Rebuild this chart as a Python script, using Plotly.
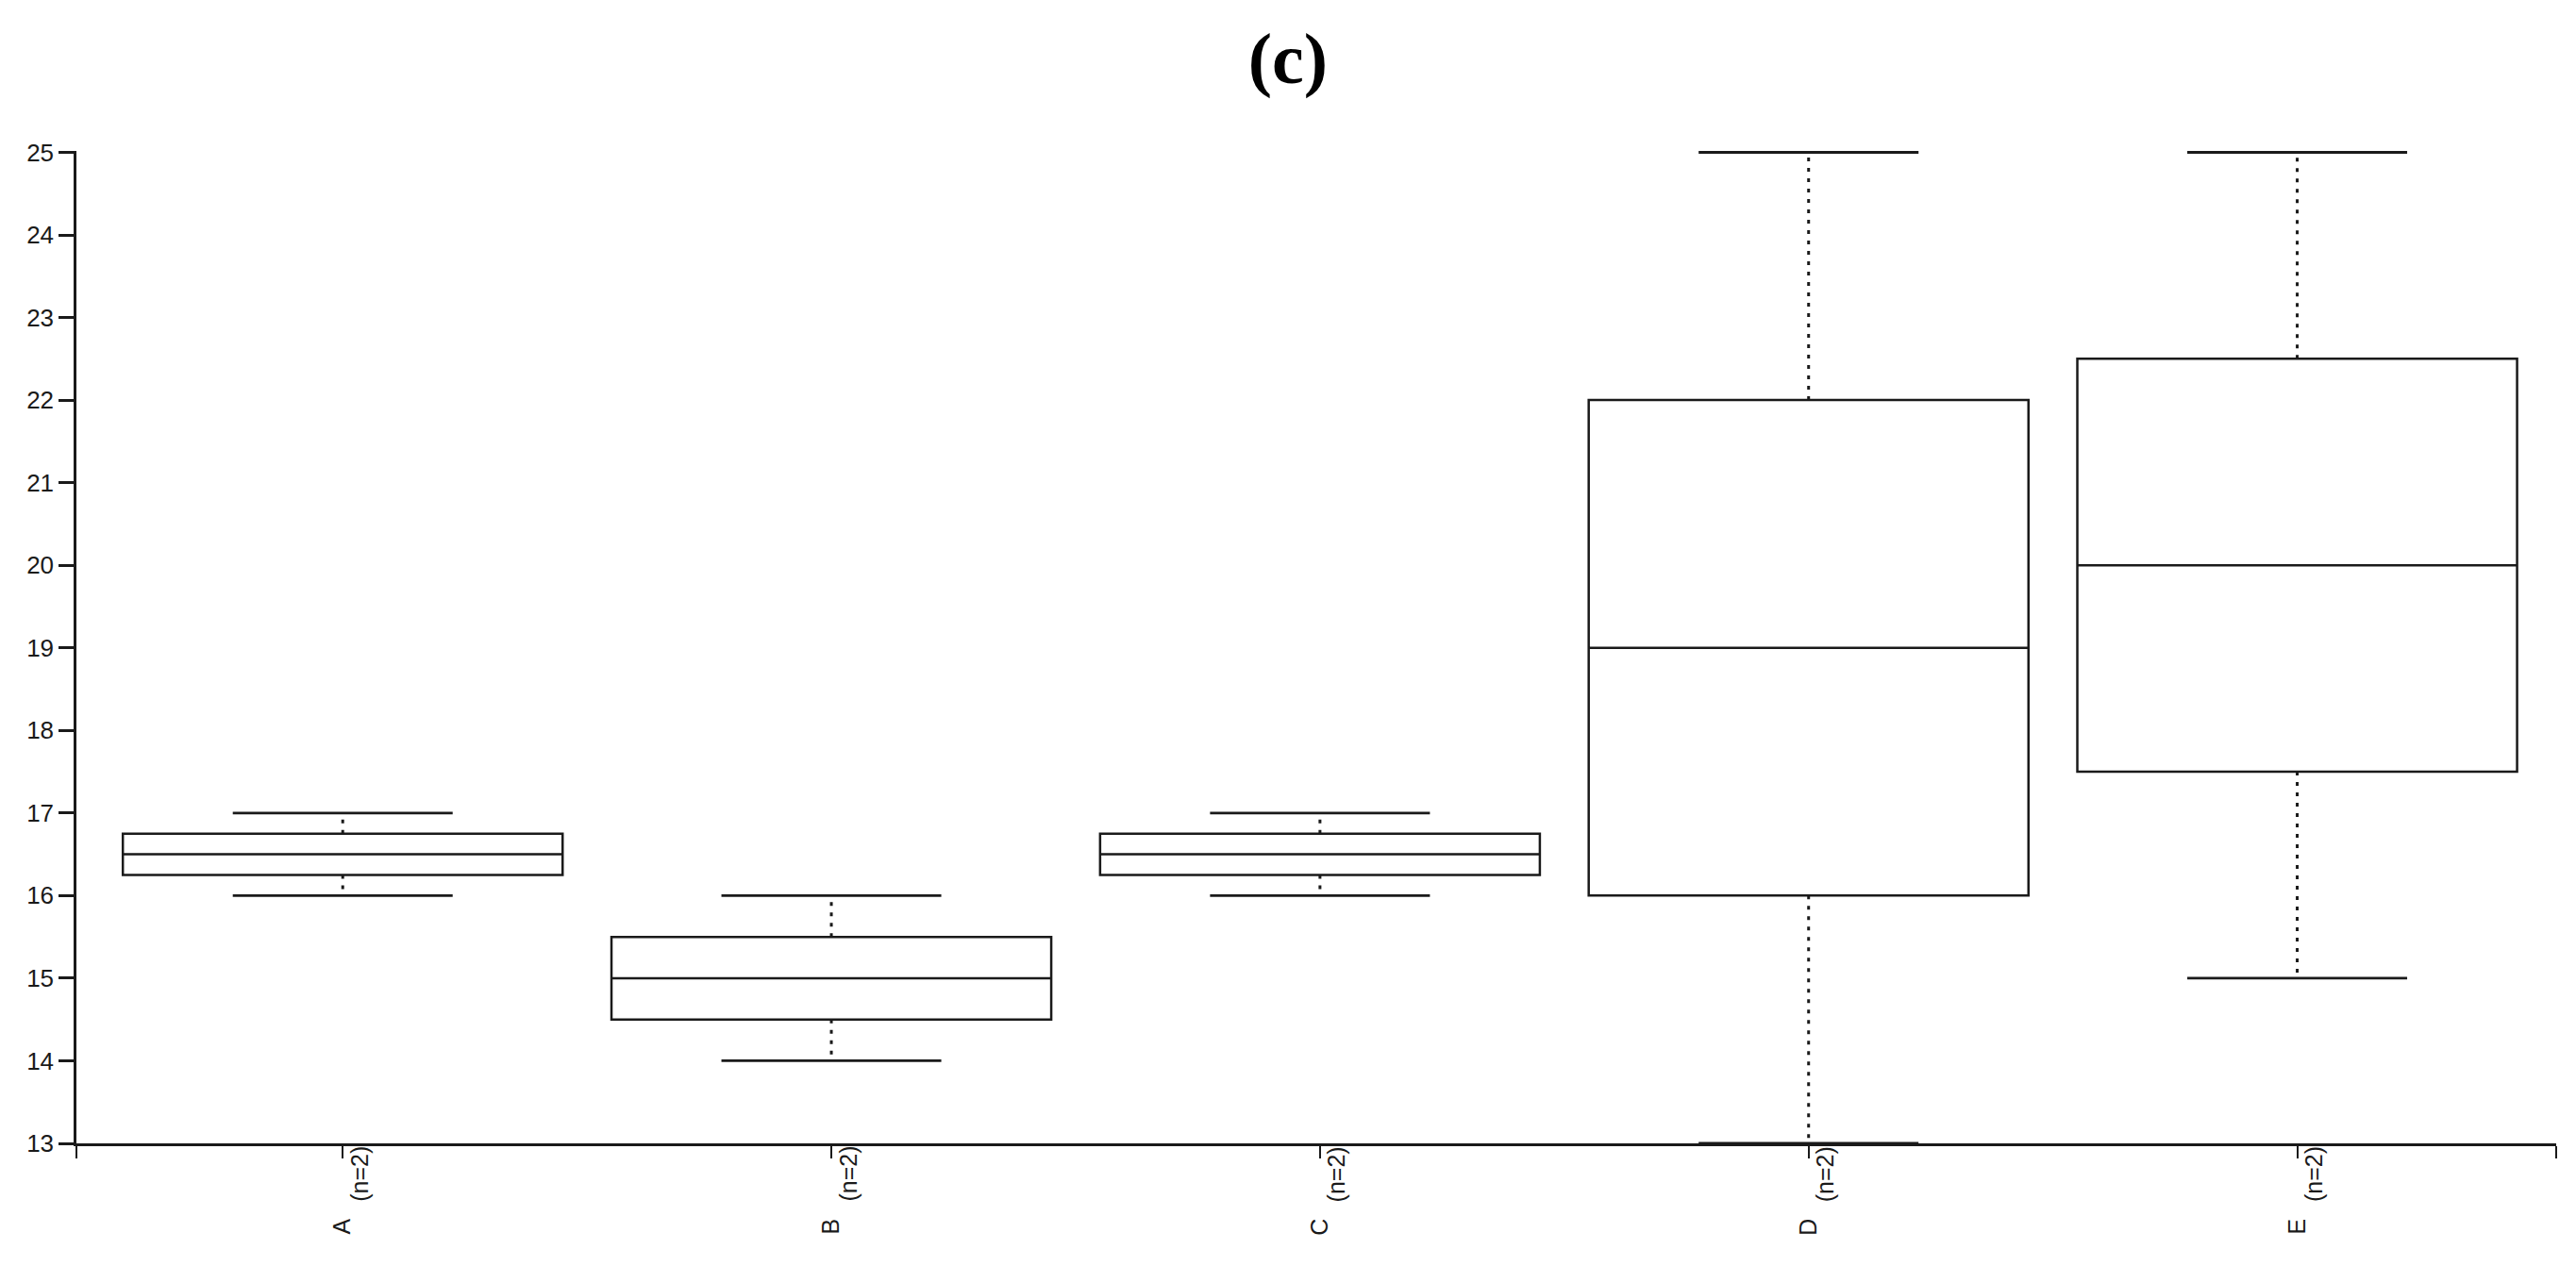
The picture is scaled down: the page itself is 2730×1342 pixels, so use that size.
import plotly.graph_objects as go

# ---- data ----
categories = ["A", "B", "C", "D", "E"]
counts = [2, 2, 2, 2, 2]
mins = [16, 14, 16, 13, 15]
q1s = [16.25, 14.5, 16.25, 16, 17.5]
medians = [16.5, 15, 16.5, 19, 20]
q3s = [16.75, 15.5, 16.75, 22, 22.5]
maxs = [17, 16, 17, 25, 25]
y_ticks = list(range(13, 26))

# ---- style ----
LINE = "#1a1a1a"
FONT = "Liberation Sans, Arial, sans-serif"
box_w = 0.9
cap_half = box_w / 4  # caps are half the box width
x_lo, x_hi = -0.545, 4.53
y_lo, y_hi = 13, 25.017  # tiny headroom so the top caps are not clipped

pos = list(range(len(categories)))

fig = go.Figure()

# boxes (whiskers drawn separately so they can be dotted)
fig.add_trace(go.Box(
    x=pos, q1=q1s, median=medians, q3=q3s,
    lowerfence=q1s, upperfence=q3s,
    fillcolor="rgba(0,0,0,0)",
    line=dict(color=LINE, width=2.5),
    whiskerwidth=0, width=box_w,
    boxpoints=False, hoverinfo="skip", showlegend=False,
))

# dotted whiskers
wx, wy = [], []
for i in pos:
    wx += [i, i, None, i, i, None]
    wy += [q3s[i], maxs[i], None, q1s[i], mins[i], None]
fig.add_trace(go.Scatter(
    x=wx, y=wy, mode="lines", cliponaxis=False,
    line=dict(color=LINE, width=3, dash="4px,7px"),
    hoverinfo="skip", showlegend=False,
))

# solid caps
cx, cy = [], []
for i in pos:
    cx += [i - cap_half, i + cap_half, None, i - cap_half, i + cap_half, None]
    cy += [maxs[i], maxs[i], None, mins[i], mins[i], None]
fig.add_trace(go.Scatter(
    x=cx, y=cy, mode="lines", cliponaxis=False,
    line=dict(color=LINE, width=2.8),
    hoverinfo="skip", showlegend=False,
))

# (n=…) labels next to the axis
for i in pos:
    fig.add_annotation(
        x=i, y=13, xref="x", yref="y",
        text=f"(n={counts[i]})", textangle=-90,
        showarrow=False, xanchor="center", yanchor="top",
        xshift=17, yshift=-1,
        font=dict(family=FONT, size=25, color=LINE),
    )

fig.update_layout(
    width=2730, height=1342,
    paper_bgcolor="white", plot_bgcolor="white",
    margin=dict(l=81, r=21, t=160, b=130, autoexpand=False),
    boxgap=0.1,
    title=dict(
        text="<b>(c)</b>", x=0.5, xanchor="center",
        y=1 - 61 / 1342, yanchor="middle",
        font=dict(family="Liberation Serif, Times New Roman, serif", size=76, color="black"),
    ),
    xaxis=dict(
        range=[x_lo, x_hi], showgrid=False, zeroline=False,
        automargin=False,
        tickmode="array",
        tickvals=[x_lo] + pos + [x_hi],
        ticktext=[""] + categories + [""],
        tickangle=-90,
        ticks="outside", ticklen=13, tickwidth=2, tickcolor=LINE,
        showline=True, linecolor=LINE, linewidth=2.5,
        ticklabelstandoff=54,
        tickfont=dict(family=FONT, size=25, color=LINE),
    ),
    yaxis=dict(
        range=[y_lo, y_hi], showgrid=False, zeroline=False,
        automargin=False,
        tickmode="array", tickvals=y_ticks,
        ticktext=[str(v) for v in y_ticks],
        ticks="outside", ticklen=16, tickwidth=2.5, tickcolor=LINE,
        showline=True, linecolor=LINE, linewidth=2.5,
        tickfont=dict(family=FONT, size=26, color=LINE),
    ),
)

fig.write_html(
    "out.html",
    config={"displayModeBar": False},
    post_script="document.body.style.margin='0';document.body.style.overflow='hidden';",
)
